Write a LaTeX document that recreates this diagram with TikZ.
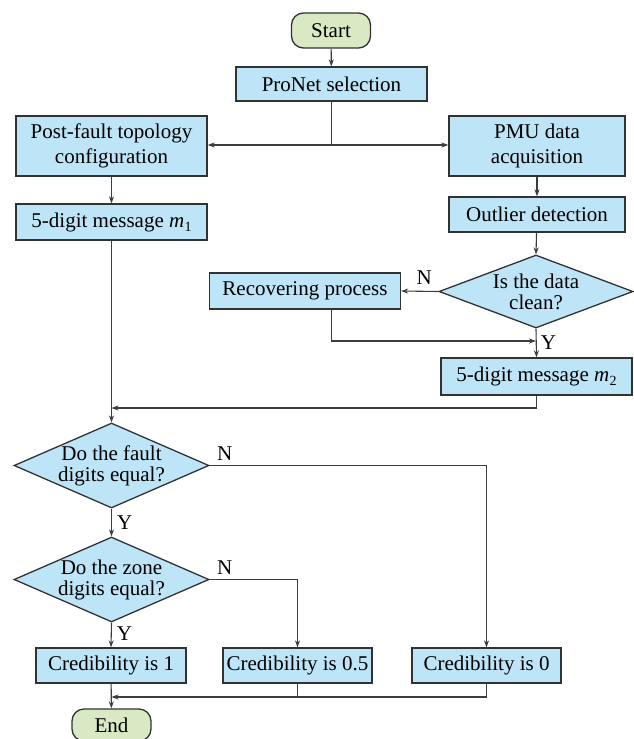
\documentclass[tikz,border=0pt]{standalone}
\usepackage{fontspec}
\setmainfont{Liberation Serif}
\usetikzlibrary{shapes.geometric,arrows.meta}

\definecolor{boxblue}{RGB}{190,228,247}
\definecolor{termgreen}{RGB}{216,233,196}
\definecolor{edgegray}{RGB}{50,50,50}
\definecolor{linegray}{RGB}{60,60,60}

\tikzset{
  base/.style={draw=edgegray, line width=1.3pt, inner sep=0pt, align=center,
    font=\fontsize{21}{25}\selectfont},
  procbox/.style={base, rectangle, fill=boxblue},
  termbox/.style={base, rectangle, rounded corners=12pt, fill=termgreen,
    minimum width=79pt, minimum height=35pt},
  decbox/.style={base, diamond, fill=boxblue, minimum width=195pt, minimum height=85pt},
  dtext/.style={align=center, inner sep=0pt, font=\fontsize{21}{21}\selectfont},
  flow/.style={draw=linegray, line width=1.1pt},
  arrow/.style={flow, -{Stealth[length=7pt,width=5pt]}},
  yn/.style={font=\fontsize{21}{22}\selectfont, inner sep=0pt}
}

\newcommand{\msgidx}[1]{\textit{m}\kern0.3pt\raisebox{-0.45ex}{\fontsize{14}{14}\selectfont #1}}

\begin{document}
\begin{tikzpicture}[x=1pt, y=-1pt]
  \useasboundingbox (0,0) rectangle (633,739);

  % terminals and process steps
  \node[termbox] (start) at (331,30.5) {Start};
  \node[procbox, minimum width=191pt, minimum height=34pt] (pronet) at (331.5,84) {ProNet selection};
  \node[procbox, minimum width=191pt, minimum height=60pt] (post) at (111.5,146)
    {Post-fault topology\\configuration};
  \node[procbox, minimum width=176pt, minimum height=60pt] (pmu) at (537,146)
    {PMU data\\acquisition};
  \node[procbox, minimum width=191pt, minimum height=36pt] (m1) at (111.5,222)
    {5-digit message \msgidx{1}};
  \node[procbox, minimum width=176pt, minimum height=35pt] (outlier) at (537,214.5)
    {Outlier detection};
  \node[decbox, minimum width=194pt, minimum height=73pt,
        label={[dtext]center:Is the data\\clean?}] (clean) at (536,291.5) {};
  \node[procbox, minimum width=191pt, minimum height=36pt] (recov) at (305,291)
    {Recovering process};
  \node[procbox, minimum width=191pt, minimum height=37pt] (m2) at (536.5,376.5)
    {5-digit message \msgidx{2}};

  % comparison of the two messages
  \node[decbox, label={[dtext]center:Do the fault\\digits equal?}] (fault) at (111.5,465.5) {};
  \node[decbox, label={[dtext]center:Do the zone\\digits equal?}] (zone) at (111.5,579.5) {};

  % credibility results
  \node[procbox, minimum width=150pt, minimum height=35pt] (cred1) at (111,665.5) {Credibility is 1};
  \node[procbox, minimum width=149pt, minimum height=35pt] (cred05) at (297.5,665.5) {Credibility is 0.5};
  \node[procbox, minimum width=149pt, minimum height=35pt] (cred0) at (486.5,665.5) {Credibility is 0};
  \node[termbox, minimum height=32pt] (end) at (111.5,725) {End};

  % junction points
  \coordinate (split) at (331.5,145);
  \coordinate (join1) at (536,341);
  \coordinate (join2) at (111.5,408);
  \coordinate (join3) at (111.5,697);

  % connectors
  \draw[arrow] (start) -- (pronet);
  \draw[flow] (pronet.south) -- (split);
  \draw[arrow] (split) -- (split -| post.east);
  \draw[arrow] (split) -- (split -| pmu.west);
  \draw[arrow] (post) -- (m1);
  \draw[arrow] (pmu) -- (outlier);
  \draw[arrow] (outlier) -- (clean.north);
  \draw[arrow] (clean.west) -- node[yn, pos=0.38, above=6pt] {N} (recov.east);
  \draw[arrow] (recov.south -| split) |- (join1);
  \draw[arrow] (clean.south) -- node[yn, pos=0.5, right=4pt] {Y} (m2.north);
  \draw[arrow] (m2.south) |- (join2);
  \draw[arrow] (m1.south) -- (fault.north);
  \draw[arrow] (fault.east) -| node[yn, pos=0, anchor=south west, xshift=7pt, yshift=4pt] {N} (cred0.north);
  \draw[arrow] (fault.south) -- node[yn, pos=0.5, right=5pt] {Y} (zone.north);
  \draw[arrow] (zone.east) -| node[yn, pos=0, anchor=south west, xshift=7pt, yshift=4pt] {N} (cred05.north);
  \draw[arrow] (zone.south) -- node[yn, pos=0.45, right=5pt] {Y} (cred1.north);
  \draw[arrow] (cred1) -- (end);
  \draw[arrow] (cred0.south) |- (join3);
  \draw[flow] (cred05.south) -- (cred05.south |- join3);
\end{tikzpicture}
\end{document}
